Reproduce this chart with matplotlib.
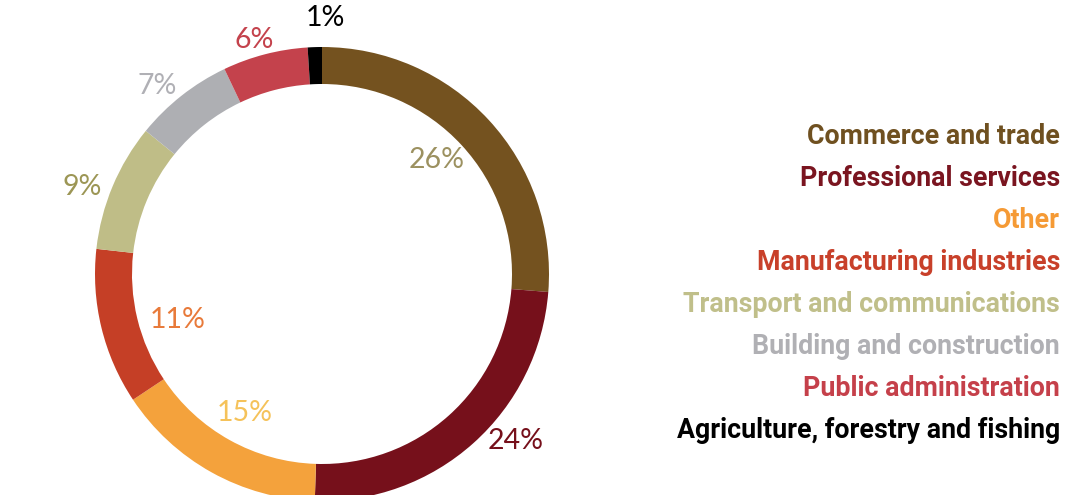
import matplotlib.pyplot as plt

sectors = ["Commerce and trade", "Professional services", "Other",
           "Manufacturing industries", "Transport and communications",
           "Building and construction", "Public administration",
           "Agriculture, forestry and fishing"]
shares = [26, 24, 15, 11, 9, 7, 6, 1]
labels = ["26%", "24%", "15%", "11%", "9%", "7%", "6%", "1%"]

ring_colors = ["#74521f", "#76101b", "#f4a23c", "#c53f26",
               "#bfbd87", "#aeafb3", "#c4424c", "#000000"]
name_colors = ["#6f5020", "#7a1520", "#f59a35", "#c8402a",
               "#c0bf8a", "#b0b0b4", "#c5404a", "#000000"]
pct_colors = ["#9c9160", "#76101b", "#f5c25a", "#e87a3a",
              "#9c9655", "#b0b0b5", "#c4424c", "#000000"]

# label positions in image pixels (x, y from top)
pct_pos = [(437, 160), (516, 441), (245, 413), (178, 320),
           (82, 187), (157, 86), (254, 40), (325, 18)]

W, H = 1090, 495
fig = plt.figure(figsize=(W / 100, H / 100), dpi=100)
ax = fig.add_axes([0, 0, 1, 1])

ax.pie(shares, colors=ring_colors, startangle=90, counterclock=False,
       center=(322, H - 274), radius=227,
       wedgeprops=dict(width=37, linewidth=0))
ax.set_xlim(0, W)
ax.set_ylim(0, H)
ax.axis("off")

for lab, (x, y), c in zip(labels, pct_pos, pct_colors):
    ax.text(x, H - y, lab, color=c, fontsize=20.5, family="Lato",
            ha="center", va="center")

for i, (name, c) in enumerate(zip(sectors, name_colors)):
    ax.text(1060, H - (137 + i * 41.9), name, color=c, fontsize=19.3,
            family="Roboto", fontweight="bold", ha="right", va="center")

fig.savefig("out.png", dpi=100)
